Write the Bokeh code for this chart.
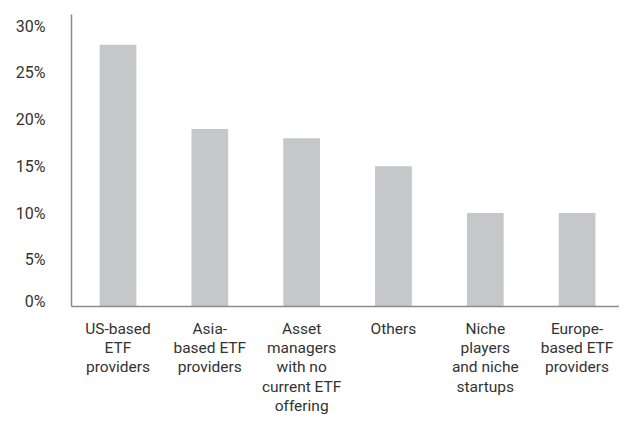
from bokeh.plotting import figure
from bokeh.models import FixedTicker, ColumnDataSource, Range1d
from bokeh.layouts import column
from bokeh.core.properties import value
from bokeh.embed import file_html
from bokeh.resources import INLINE

categories = [
    "US-based\nETF\nproviders",
    "Asia-\nbased ETF\nproviders",
    "Asset\nmanagers\nwith no\ncurrent ETF\noffering",
    "Others",
    "Niche\nplayers\nand niche\nstartups",
    "Europe-\nbased ETF\nproviders",
]
values = [28, 19, 18, 15, 10, 10]
y_ticks = [0, 5, 10, 15, 20, 25, 30]
y_labels = ["0%", "5%", "10%", "15%", "20%", "25%", "30%"]

xs = list(range(len(categories)))
src = ColumnDataSource(dict(x=xs, top=values, label=categories))

FONT = "Roboto"
TXT = "#333333"
AX = "#8c8c8c"
W = 619
H_TOP = 310
H_BOT = 106

xr = Range1d(-0.5065, 5.462)

p = figure(width=W, height=H_TOP, output_backend="svg", toolbar_location=None,
           x_range=xr, y_range=Range1d(0, 31.25),
           min_border_left=71, min_border_right=0, min_border_top=14,
           min_border_bottom=4)
p.vbar(x="x", top="top", width=0.4, bottom=0, color="#c6c7c9", line_color=None, source=src)
p.xgrid.visible = False
p.ygrid.visible = False
p.outline_line_color = None

yax = p.yaxis[0]
yax.ticker = FixedTicker(ticks=y_ticks)
yax.major_label_overrides = {t: l for t, l in zip(y_ticks, y_labels)}
yax.major_tick_line_color = None
yax.minor_tick_line_color = None
yax.axis_line_color = AX
yax.axis_line_width = 1.5
yax.major_label_text_font = FONT
yax.major_label_text_font_size = "16px"
yax.major_label_text_color = TXT
yax.major_label_standoff = 20

xax = p.xaxis[0]
xax.ticker = FixedTicker(ticks=[])
xax.major_tick_line_color = None
xax.minor_tick_line_color = None
xax.major_tick_out = 0
xax.major_label_standoff = 0
xax.axis_line_color = AX
xax.axis_line_width = 1.5

# category labels in a strip below the chart, sharing the x scale
p2 = figure(width=W, height=H_BOT, output_backend="svg", toolbar_location=None,
            x_range=xr, y_range=Range1d(H_BOT, 0),
            x_axis_location=None, y_axis_location=None,
            min_border_left=71, min_border_right=0, min_border_top=0,
            min_border_bottom=0)
p2.xgrid.visible = False
p2.ygrid.visible = False
p2.outline_line_color = None
p2.text(x="x", y=9, text="label", source=src,
        text_align="center", text_baseline="top",
        text_font=value(FONT), text_font_size="15.5px", text_color=TXT,
        text_line_height=1.08)

layout = column(p, p2, spacing=0)
open("out.html", "w").write(file_html(layout, INLINE))
